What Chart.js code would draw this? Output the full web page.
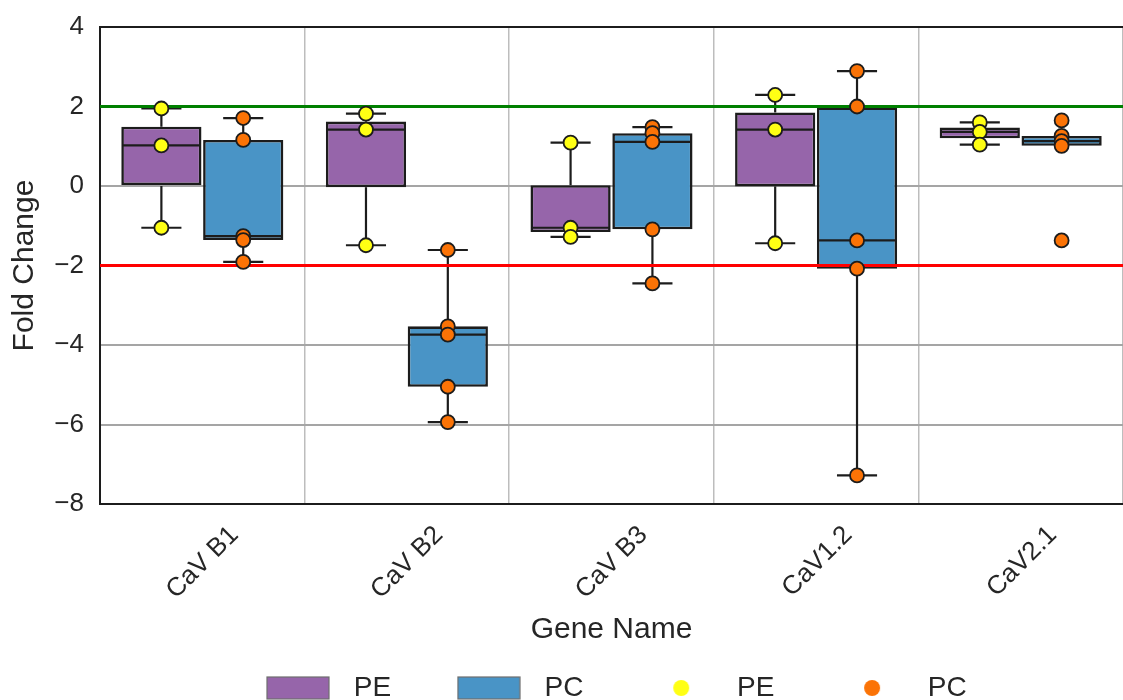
<!DOCTYPE html>
<html><head><meta charset="utf-8">
<script src="https://cdn.jsdelivr.net/npm/chart.js@4.4.1/dist/chart.umd.min.js"></script>
<style>html,body{margin:0;padding:0;background:#fff;}canvas{display:block;}</style>
</head><body>
<canvas id="c" width="1123" height="700"></canvas>
<script>
// ---------------- data ----------------
const categories = ['CaV B1', 'CaV B2', 'CaV B3', 'CaV1.2', 'CaV2.1'];
const yTickMin = -8, yTickMax = 4, yTickStep = 2;
const seriesNames = ['PE', 'PC'];

// individual measurements (strip points)
const pePoints = [
  [1.95, 1.02, -1.05],
  [1.82, 1.42, -1.49],
  [1.09, -1.05, -1.28],
  [2.29, 1.42, -1.44],
  [1.60, 1.36, 1.04]
];
const pcPoints = [
  [1.71, 1.16, -1.26, -1.36, -1.91],
  [-1.61, -3.53, -3.74, -5.05, -5.94],
  [1.48, 1.33, 1.11, -1.09, -2.45],
  [2.89, 2.00, -1.37, -2.08, -7.28],
  [1.65, 1.26, 1.13, 1.01, -1.37]
];

// box statistics
const peMin = [-1.05, -1.49, -1.28, -1.44, 1.04];
const peQ1  = [0.00, -0.03, -1.16, -0.01, 1.20];
const peMed = [1.02, 1.42, -1.05, 1.42, 1.36];
const peQ3  = [1.49, 1.62, 0.02, 1.85, 1.47];
const peMax = [1.95, 1.82, 1.09, 2.29, 1.60];

const pcMin = [-1.91, -5.94, -2.45, -7.28, 1.01];
const pcQ1  = [-1.36, -5.05, -1.09, -2.08, 1.01];
const pcMed = [-1.26, -3.74, 1.11, -1.37, 1.13];
const pcQ3  = [1.16, -3.53, 1.33, 1.98, 1.26];
const pcMax = [1.71, -1.61, 1.48, 2.89, 1.26];

const upperThreshold = 2;
const lowerThreshold = -2;

// ---------------- styling ----------------
const FONT = "'Liberation Sans', Arial, Helvetica, sans-serif";
const TEXT = '#262626';
const BOX_COLORS = ['#9665aa', '#4994c6'];
const DOT_COLORS = ['#ffff14', '#fb7306'];
const EDGE = '#1c1c1c';
const CAT_PCT = 0.8;
const groupOffset = CAT_PCT / 4;

Chart.defaults.font.family = FONT;
Chart.defaults.color = TEXT;

const boxStats = [
  {min: peMin, q1: peQ1, med: peMed, q3: peQ3, max: peMax},
  {min: pcMin, q1: pcQ1, med: pcMed, q3: pcQ3, max: pcMax}
];

function toStrip(points, sign) {
  const out = [];
  points.forEach((vals, i) => vals.forEach(v => out.push({x: i + sign * groupOffset, y: v})));
  return out;
}
function toBoxes(q1, q3, sign) {
  return q1.map((q, i) => ({x: i + sign * groupOffset, y: [q, q3[i]]}));
}

function rectIcon(color) {
  const c = document.createElement('canvas');
  c.width = 64; c.height = 24;
  const g = c.getContext('2d');
  g.fillStyle = color; g.fillRect(1, 1, 62, 22);
  g.strokeStyle = '#6e6e6e'; g.lineWidth = 1.2; g.strokeRect(1, 1, 62, 22);
  return c;
}
function dotIcon(color) {
  const c = document.createElement('canvas');
  c.width = 18; c.height = 18;
  const g = c.getContext('2d');
  g.fillStyle = color; g.beginPath(); g.arc(9, 9, 8, 0, Math.PI * 2); g.fill();
  return c;
}

const boxPlugin = {
  id: 'boxWhiskers',
  beforeDatasetsDraw(chart) {
    const {ctx, chartArea: a} = chart;
    ctx.save();
    ctx.strokeStyle = EDGE; ctx.lineWidth = 2;
    ctx.beginPath(); ctx.moveTo(a.left, a.top); ctx.lineTo(a.right, a.top); ctx.stroke();
    ctx.restore();
  },
  afterDatasetDraw(chart, args) {
    if (args.index > 1) return;
    const s = boxStats[args.index];
    const ys = chart.scales.y;
    const ctx = chart.ctx;
    ctx.save();
    ctx.strokeStyle = EDGE; ctx.lineWidth = 2.2;
    const seg = (x1, y1, x2, y2) => { ctx.beginPath(); ctx.moveTo(x1, y1); ctx.lineTo(x2, y2); ctx.stroke(); };
    args.meta.data.forEach((bar, i) => {
      const {x, width} = bar.getProps(['x', 'width'], true);
      const half = width / 2 - 1.5, cap = width / 4;
      const yMed = ys.getPixelForValue(s.med[i]);
      const yQ1 = ys.getPixelForValue(s.q1[i]), yQ3 = ys.getPixelForValue(s.q3[i]);
      const yMin = ys.getPixelForValue(s.min[i]), yMax = ys.getPixelForValue(s.max[i]);
      seg(x - half, yMed, x + half, yMed);
      if (s.max[i] > s.q3[i]) { seg(x, yQ3, x, yMax); seg(x - cap, yMax, x + cap, yMax); }
      if (s.min[i] < s.q1[i]) { seg(x, yQ1, x, yMin); seg(x - cap, yMin, x + cap, yMin); }
    });
    ctx.restore();
  },
  beforeDatasetDraw(chart, args) {
    if (args.index !== 2) return;
    const {ctx, chartArea: a} = chart;
    const ys = chart.scales.y;
    ctx.save();
    ctx.lineWidth = 3;
    [[upperThreshold, '#008000'], [lowerThreshold, '#ff0000']].forEach(([v, col]) => {
      const y = ys.getPixelForValue(v);
      ctx.strokeStyle = col;
      ctx.beginPath(); ctx.moveTo(a.left, y); ctx.lineTo(a.right, y); ctx.stroke();
    });
    ctx.restore();
  }
};

const datasets = [
  {
    type: 'bar', label: seriesNames[0], order: 2, xAxisID: 'xs', yAxisID: 'y', grouped: false,
    data: toBoxes(peQ1, peQ3, -1),
    backgroundColor: BOX_COLORS[0], borderColor: EDGE, borderWidth: 2.6, borderSkipped: false,
    categoryPercentage: 1, barPercentage: 0.98
  },
  {
    type: 'bar', label: seriesNames[1], order: 2, xAxisID: 'xs', yAxisID: 'y', grouped: false,
    data: toBoxes(pcQ1, pcQ3, 1),
    backgroundColor: BOX_COLORS[1], borderColor: EDGE, borderWidth: 2.6, borderSkipped: false,
    categoryPercentage: 1, barPercentage: 0.98
  },
  {
    type: 'scatter', label: seriesNames[0], order: 1, xAxisID: 'xs', yAxisID: 'y',
    data: toStrip(pePoints, -1),
    backgroundColor: DOT_COLORS[0], borderColor: EDGE, borderWidth: 1.8, pointRadius: 7
  },
  {
    type: 'scatter', label: seriesNames[1], order: 0, xAxisID: 'xs', yAxisID: 'y',
    data: toStrip(pcPoints, 1),
    backgroundColor: DOT_COLORS[1], borderColor: EDGE, borderWidth: 1.8, pointRadius: 7
  }
];

function noSidePadding(scale) { scale.paddingLeft = 0; scale.paddingRight = 0; }

new Chart(document.getElementById('c'), {
  type: 'bar',
  data: {labels: categories, datasets},
  plugins: [boxPlugin],
  options: {
    responsive: false, animation: false, devicePixelRatio: 1, events: [],
    layout: {autoPadding: false, padding: {top: 27, right: 0, left: 0, bottom: -12}},
    scales: {
      x: {
        type: 'category', offset: true,
        grid: {display: true, offset: true, color: '#bdbdbd', lineWidth: 1.5, drawTicks: false},
        border: {display: true, color: EDGE, width: 2},
        ticks: {minRotation: 45, maxRotation: 45, autoSkip: false, padding: 16, labelOffset: 32,
                font: {size: 26}, color: TEXT},
        title: {display: true, text: 'Gene Name', font: {size: 30}, color: TEXT, padding: {top: 0, bottom: -30}},
        afterFit(scale) { scale.height = 114; noSidePadding(scale); }
      },
      xs: {
        type: 'linear', display: false, offset: false, grid: {offset: false},
        min: -0.5, max: categories.length - 0.5,
        afterFit(scale) { noSidePadding(scale); }
      },
      y: {
        type: 'linear', min: yTickMin, max: yTickMax,
        ticks: {stepSize: yTickStep, padding: 16, font: {size: 26}, color: TEXT,
                callback: v => (v < 0 ? '\u2212' + Math.abs(v) : String(v))},
        grid: {color: '#a5a5a5', lineWidth: 2, drawTicks: false},
        border: {display: true, color: EDGE, width: 2},
        title: {display: true, text: 'Fold Change', font: {size: 30}, color: TEXT, padding: {top: 7, bottom: 0}},
        afterFit(scale) { scale.width = 100; scale.paddingTop = 0; scale.paddingBottom = 0; }
      }
    },
    plugins: {
      tooltip: {enabled: false},
      legend: {
        display: true, position: 'bottom', fullSize: false, align: 'center',
        labels: {
          usePointStyle: true, pointStyleWidth: 83.5, font: {size: 28}, color: TEXT, padding: 56,
          generateLabels: () => [
            {text: seriesNames[0], pointStyle: rectIcon(BOX_COLORS[0]), fillStyle: BOX_COLORS[0], lineWidth: 0, hidden: false, datasetIndex: 0, fontColor: TEXT},
            {text: seriesNames[1], pointStyle: rectIcon(BOX_COLORS[1]), fillStyle: BOX_COLORS[1], lineWidth: 0, hidden: false, datasetIndex: 1, fontColor: TEXT},
            {text: seriesNames[0], pointStyle: dotIcon(DOT_COLORS[0]), fillStyle: DOT_COLORS[0], lineWidth: 0, hidden: false, datasetIndex: 2, fontColor: TEXT},
            {text: seriesNames[1], pointStyle: dotIcon(DOT_COLORS[1]), fillStyle: DOT_COLORS[1], lineWidth: 0, hidden: false, datasetIndex: 3, fontColor: TEXT}
          ]
        }
      }
    }
  }
});
</script>
</body></html>
